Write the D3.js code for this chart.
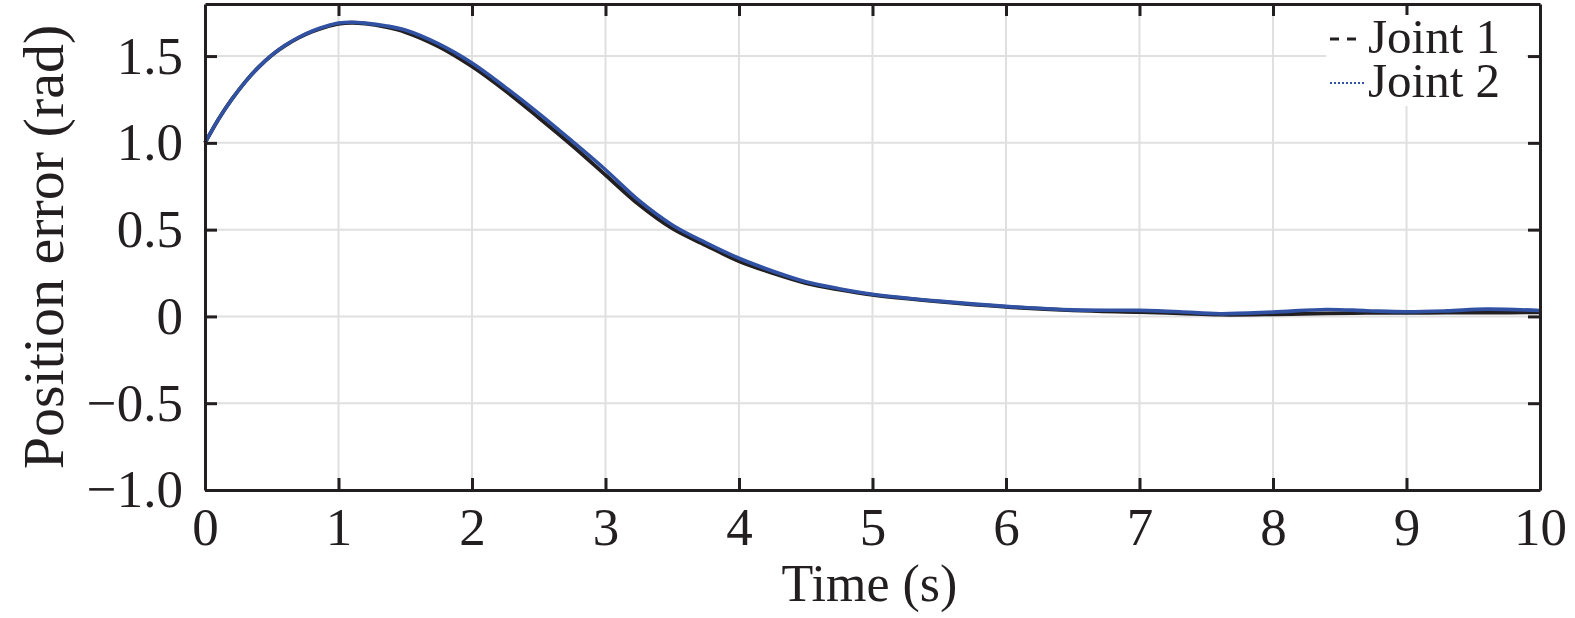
<!DOCTYPE html>
<html><head><meta charset="utf-8">
<script src="https://cdn.jsdelivr.net/npm/d3@7"></script>
<style>
html,body{margin:0;padding:0;background:#fff;}
svg{display:block;}
text{font-family:"Liberation Serif","Times New Roman",serif;fill:#231f20;}
</style></head><body>
<svg id="chart" width="1575" height="618"></svg>
<script>
const time = [0,0.1,0.2,0.3,0.4,0.5,0.6,0.7,0.8,0.9,1.0,1.1,1.2,1.35,1.5,1.75,2.0,2.25,2.5,2.75,3.0,3.25,3.5,3.75,4.0,4.25,4.5,4.75,5.0,5.5,6.0,6.5,7.0,7.3,7.6,8.0,8.4,8.7,9.0,9.3,9.6,10];
const joint1 = [1.0,1.135,1.25,1.35,1.435,1.505,1.56,1.605,1.64,1.667,1.686,1.692,1.687,1.668,1.638,1.555,1.44,1.30,1.145,0.985,0.815,0.645,0.507,0.41,0.318,0.25,0.192,0.154,0.124,0.085,0.055,0.035,0.025,0.018,0.010,0.012,0.018,0.020,0.020,0.022,0.022,0.024];
const joint2 = [1.0,1.135,1.25,1.35,1.435,1.505,1.562,1.607,1.643,1.67,1.69,1.695,1.69,1.675,1.65,1.57,1.46,1.32,1.17,1.01,0.845,0.668,0.527,0.425,0.335,0.262,0.20,0.16,0.128,0.088,0.058,0.038,0.035,0.027,0.015,0.025,0.040,0.033,0.027,0.032,0.042,0.034];
const xTicks = [0,1,2,3,4,5,6,7,8,9,10];
const yTicks = [-1.0,-0.5,0,0.5,1.0,1.5];
const yTickLabels = ["\u22121.0","\u22120.5","0","0.5","1.0","1.5"];
const seriesNames = ["Joint 1","Joint 2"];
const seriesColors = ["#231f20","#3152a3"];

const svg = d3.select("#chart");
const L = 205, R = 1540, T = 4, B = 490;
const x = d3.scaleLinear().domain([0,10]).range([L,R]);
const y = d3.scaleLinear().domain([-1,1.8]).range([B,T]);

// grid
const grid = svg.append("g").attr("stroke","#e0e0e0").attr("stroke-width",2);
grid.selectAll(".gx").data(xTicks.slice(1,-1)).enter().append("line")
  .attr("x1",d=>x(d)).attr("x2",d=>x(d)).attr("y1",T).attr("y2",B);
grid.selectAll(".gy").data(yTicks.slice(1)).enter().append("line")
  .attr("y1",d=>y(d)).attr("y2",d=>y(d)).attr("x1",L).attr("x2",R);

// lines
const mk = vals => d3.line().x((d,i)=>x(time[i])).y(d=>y(d)).curve(d3.curveCatmullRom.alpha(0.5))(vals);
const plot = svg.append("g");
plot.append("path").attr("d",mk(joint1)).attr("fill","none").attr("stroke",seriesColors[0]).attr("stroke-width",3.8);
plot.append("path").attr("d",mk(joint2)).attr("fill","none").attr("stroke",seriesColors[1]).attr("stroke-width",3.6);

// axes
const fmtY = d => yTickLabels[yTicks.indexOf(d)];
function style(g){
  g.attr("font-family",null);
  g.selectAll(".domain").attr("stroke","#231f20").attr("stroke-width",3);
  g.selectAll(".tick line").attr("stroke","#231f20").attr("stroke-width",3);
  g.selectAll("text").attr("fill","#231f20").style("font-family","Liberation Serif, serif").style("font-size","53px");
}
svg.append("g").attr("transform",`translate(0,${B})`)
  .call(d3.axisBottom(x).tickValues(xTicks).tickSize(-12).tickSizeOuter(0).tickPadding(17).tickFormat(d3.format("d")))
  .call(style);
svg.append("g").attr("transform",`translate(0,${T})`)
  .call(d3.axisTop(x).tickValues(xTicks.slice(1,-1)).tickSize(-12).tickSizeOuter(0).tickFormat(""))
  .call(style);
svg.append("g").attr("transform",`translate(${L},0)`)
  .call(d3.axisLeft(y).tickValues(yTicks).tickSize(-12).tickSizeOuter(0).tickPadding(22).tickFormat(fmtY))
  .call(style);
svg.append("g").attr("transform",`translate(${R},0)`)
  .call(d3.axisRight(y).tickValues(yTicks.slice(1)).tickSize(-12).tickSizeOuter(0).tickFormat(""))
  .call(style);

// labels
svg.append("text").attr("x",(L+R)/2 - 3).attr("y",601).attr("text-anchor","middle")
  .style("font-size","52px").text("Time (s)");
svg.append("text").attr("transform",`translate(63,247) rotate(-90)`).attr("text-anchor","middle")
  .style("font-size","58px").text("Position error (rad)");

// legend
const lg = svg.append("g");
lg.append("rect").attr("x",1326).attr("y",15).attr("width",200).attr("height",91).attr("fill","#fff");
const dashes = ["9,8","2,2"];
const widths = [2.8,2.2];
seriesNames.forEach((n,i)=>{
  const yy = 39 + i*44;
  lg.append("line").attr("x1",1330).attr("x2",1364).attr("y1",yy).attr("y2",yy)
    .attr("stroke",seriesColors[i]).attr("stroke-width",widths[i]).attr("stroke-dasharray",dashes[i]);
  lg.append("text").attr("x",1368).attr("y",53 + i*44).style("font-size","49px").text(n);
});
</script>
</body></html>
